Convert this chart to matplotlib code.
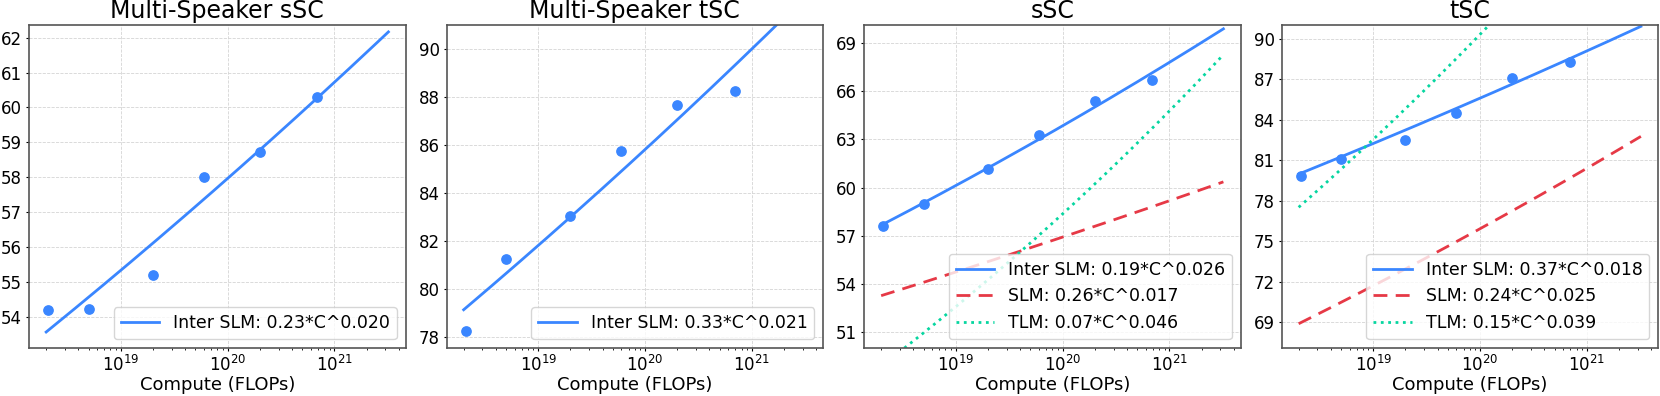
import numpy as np
import matplotlib
matplotlib.use("Agg")
import matplotlib.pyplot as plt
from matplotlib.ticker import MultipleLocator

# compute budgets (FLOPs) of the model sizes
compute = [2.1e18, 5.0e18, 2.0e19, 6.0e19, 2.0e20, 6.9e20]

titles = ["Multi-Speaker sSC", "Multi-Speaker tSC", "sSC", "tSC"]

# accuracies of the interleaved SLM per panel
ms_ssc = [54.20, 54.25, 55.22, 58.00, 58.72, 60.31]
ms_tsc = [78.25, 81.23, 83.03, 85.74, 87.66, 88.27]
ssc = [57.59, 58.98, 61.15, 63.28, 65.38, 66.70]
tsc = [79.83, 81.12, 82.51, 84.53, 87.11, 88.29]

# power law fits (a, b) of y = a * C^b
fit_inter = [(0.2293, 0.02014), (0.3299, 0.02076), (0.1926, 0.02602), (0.384, 0.01741)]
fit_slm = [None, None, (0.2615, 0.01689), (0.2411, 0.02491)]
fit_tlm = [None, None, (0.0729, 0.04517), (0.1489, 0.03915)]

lbl_inter = ["Inter SLM: 0.23*C^0.020", "Inter SLM: 0.33*C^0.021",
             "Inter SLM: 0.19*C^0.026", "Inter SLM: 0.37*C^0.018"]
lbl_slm = [None, None, "SLM: 0.26*C^0.017", "SLM: 0.24*C^0.025"]
lbl_tlm = [None, None, "TLM: 0.07*C^0.046", "TLM: 0.15*C^0.039"]

ylims = [(53.13, 62.36), (77.54, 91.02), (50.05, 70.10), (67.10, 91.04)]
ysteps = [1, 2, 3, 3]

BLUE = "#3a86ff"
RED = "#e63946"
GREEN = "#06d6a0"

fig, axes = plt.subplots(1, 4, figsize=(16.6, 3.96), dpi=100)
fig.subplots_adjust(left=0.0175, right=0.9988, top=0.937, bottom=0.122, wspace=0.109)

c_fit = np.logspace(np.log10(2.0e18), np.log10(3.2e21), 200)
ys = [ms_ssc, ms_tsc, ssc, tsc]

for i, ax in enumerate(axes):
    ax.scatter(compute, ys[i], color=BLUE, s=45, zorder=3)
    a, b = fit_inter[i]
    ax.plot(c_fit, 100 * a * c_fit ** b, color=BLUE, lw=2, label=lbl_inter[i])
    if fit_slm[i] is not None:
        a, b = fit_slm[i]
        ax.plot(c_fit, 100 * a * c_fit ** b, color=RED, lw=2, ls=(0, (5, 3)), label=lbl_slm[i])
        a, b = fit_tlm[i]
        ax.plot(c_fit, 100 * a * c_fit ** b, color=GREEN, lw=2, ls=":", label=lbl_tlm[i])
    ax.set_xscale("log")
    ax.set_ylim(*ylims[i])
    ax.yaxis.set_major_locator(MultipleLocator(ysteps[i]))
    ax.grid(True, which="major", ls="--", color="#d4d4d4", lw=0.6)
    ax.set_title(titles[i], fontsize=17, pad=5)
    ax.set_xlabel("Compute (FLOPs)", fontsize=13, labelpad=1)
    ax.tick_params(labelsize=12, length=2.5, pad=2.5)
    ax.tick_params(which="minor", length=1.5)
    for s in ax.spines.values():
        s.set_color("#555555")
        s.set_linewidth(1.2)
    ax.legend(loc="lower right", fontsize=12.5, handlelength=2.2)

fig.savefig("out.png", dpi=100)
